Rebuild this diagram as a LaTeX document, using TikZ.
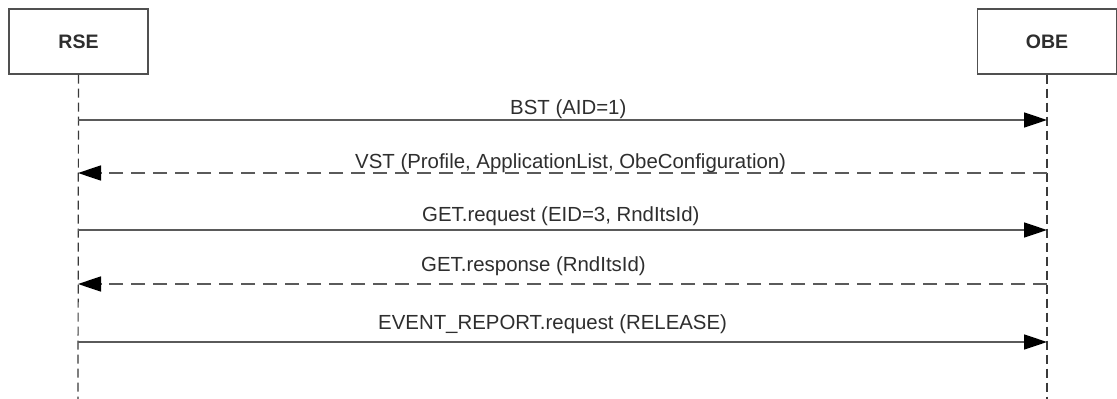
\documentclass[tikz,border=0pt]{standalone}
\usepackage{fontspec}
\setmainfont{Liberation Sans}
\usetikzlibrary{arrows.meta}
\definecolor{boxgray}{HTML}{505050}
\definecolor{lifegray}{HTML}{3A3A3A}
\definecolor{linegray}{HTML}{5A5A5A}
\definecolor{txt}{HTML}{2E2E2E}
\begin{document}
\begin{tikzpicture}[x=1pt,y=-1pt,
  actor/.style={draw=boxgray, line width=1.4pt, minimum width=139pt, minimum height=65pt, inner sep=0pt, font=\fontsize{19.5}{23}\selectfont\bfseries, text=txt},
  lifeline/.style={draw=lifegray, line width=1.2pt, dash pattern=on 9pt off 5pt},
  callmsg/.style={draw=linegray, line width=1.5pt, -{Triangle[length=23pt,width=15pt,color=black]}},
  replymsg/.style={callmsg, dash pattern=on 14pt off 8pt},
  msglabel/.style={anchor=base west, inner sep=0pt, text=txt, font=\fontsize{20.4}{24}\selectfont}]
\fill[white] (0,0) rectangle (1117,399);
\useasboundingbox (0,0) rectangle (1117,399);

\node[actor] (rse) at (78.5,41.5) {RSE};
\node[actor] (obe) at (1047,41.5) {OBE};

\coordinate (rseEnd) at (78,399);
\coordinate (obeEnd) at (1047,399);
\draw[lifeline] (rse.south) -- (rseEnd);
\draw[lifeline] (obe.south) -- (obeEnd);

\coordinate (r1) at (78,120);  \coordinate (o1) at (1047,120);
\coordinate (r2) at (78,173);  \coordinate (o2) at (1047,173);
\coordinate (r3) at (78,230);  \coordinate (o3) at (1047,230);
\coordinate (r4) at (78,284);  \coordinate (o4) at (1047,284);
\coordinate (r5) at (78,342);  \coordinate (o5) at (1047,342);

\draw[callmsg] (r1) -- (o1);
\draw[replymsg] (o2) -- (r2);
\draw[callmsg] (r3) -- (o3);
\draw[replymsg] (o4) -- (r4);
\draw[callmsg] (r5) -- (o5);

\node[msglabel] (l1) at (510,114) {BST (AID=1)};
\node[msglabel] (l2) at (355,168) {VST (Profile, ApplicationList, ObeConfiguration)};
\node[msglabel] (l3) at (422,221) {GET.request (EID=3, RndItsId)};
\node[msglabel] (l4) at (421,271) {GET.response (RndItsId)};
\node[msglabel] (l5) at (378,329) {EVENT\_REPORT.request (RELEASE)};
\end{tikzpicture}
\end{document}
